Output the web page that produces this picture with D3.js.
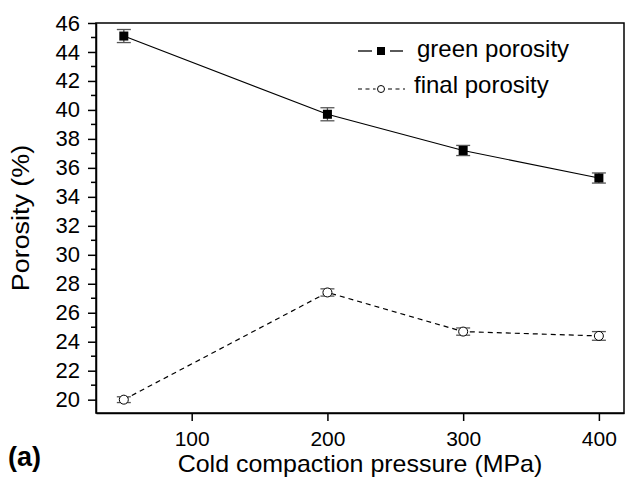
<!DOCTYPE html>
<html lang="en">
<head>
  <meta charset="UTF-8">
  <title>Porosity vs cold compaction pressure</title>
  <style>
    body { margin: 0; background: #fff; }
    svg text { font-family: "Liberation Sans", Arial, sans-serif; fill: #000; }
  </style>
  <script src="https://d3js.org/d3.v7.min.js"></script>
</head>
<body>
  <svg id="chart" width="626" height="485"></svg>

  <script>
    // data
    const pressure = [50, 200, 300, 400];
    const greenPorosity = [45.1, 39.7, 37.2, 35.3];
    const greenErr = [0.45, 0.45, 0.35, 0.35];
    const finalPorosity = [20.0, 27.4, 24.7, 24.4];
    const finalErr = [0.2, 0.25, 0.25, 0.3];
    const xTicks = [100, 200, 300, 400];
    const yTicks = [20, 22, 24, 26, 28, 30, 32, 34, 36, 38, 40, 42, 44, 46];
    const yMinorTicks = [21, 23, 25, 27, 29, 31, 33, 35, 37, 39, 41, 43, 45];

    const svg = d3.select('#chart');
    const plotL = 96, plotR = 624, plotT = 23, plotB = 413;

    const x = d3.scaleLinear().domain([29.5, 418.5]).range([plotL, plotR]);
    const y = d3.scaleLinear().domain([19.08, 46]).range([plotB, plotT]);

    // frame
    svg.append('rect')
      .attr('x', plotL).attr('y', plotT)
      .attr('width', plotR - plotL).attr('height', plotB - plotT)
      .attr('fill', 'none').attr('stroke', '#000').attr('stroke-width', 1.5);

    // x axis
    const xAxis = svg.append('g')
      .attr('transform', `translate(0,${plotB})`)
      .call(d3.axisBottom(x).tickValues(xTicks).tickSize(8).tickSizeOuter(0).tickPadding(10));
    xAxis.select('.domain').attr('stroke-width', 1.5);
    xAxis.selectAll('.tick line').attr('stroke-width', 1.5);
    xAxis.selectAll('text').attr('font-size', 21).attr('fill', '#000');

    // y axis
    const yAxis = svg.append('g')
      .attr('transform', `translate(${plotL},0)`)
      .call(d3.axisLeft(y).tickValues(yTicks).tickSize(8).tickSizeOuter(0).tickPadding(8));
    yAxis.select('.domain').attr('stroke-width', 1.5);
    yAxis.selectAll('.tick line').attr('stroke-width', 1.5);
    yAxis.selectAll('text').attr('font-size', 22).attr('fill', '#000');

    svg.append('g')
      .selectAll('line')
      .data(yMinorTicks)
      .join('line')
      .attr('x1', plotL - 5).attr('x2', plotL)
      .attr('y1', d => y(d)).attr('y2', d => y(d))
      .attr('stroke', '#000').attr('stroke-width', 1.5);

    // axis titles
    svg.append('text')
      .attr('transform', 'translate(360,472) scale(1.04,1)')
      .attr('text-anchor', 'middle')
      .attr('font-size', 24)
      .text('Cold compaction pressure (MPa)');

    svg.append('text')
      .attr('transform', `translate(29,${(plotT + plotB) / 2}) rotate(-90) scale(1.12,1)`)
      .attr('text-anchor', 'middle')
      .attr('font-size', 24)
      .text('Porosity (%)');

    svg.append('text')
      .attr('x', 8).attr('y', 466)
      .attr('font-size', 27).attr('font-weight', 'bold')
      .text('(a)');

    // series
    const greenData = pressure.map((p, i) => ({ x: p, y: greenPorosity[i], e: greenErr[i] }));
    const finalData = pressure.map((p, i) => ({ x: p, y: finalPorosity[i], e: finalErr[i] }));

    const line = d3.line().x(d => x(d.x)).y(d => y(d.y));

    svg.append('path')
      .datum(greenData)
      .attr('d', line)
      .attr('fill', 'none').attr('stroke', '#000').attr('stroke-width', 1.2);

    svg.append('path')
      .datum(finalData)
      .attr('d', line)
      .attr('fill', 'none').attr('stroke', '#000').attr('stroke-width', 1.2)
      .attr('stroke-dasharray', '5,4');

    function errorBars(data) {
      const g = svg.append('g').attr('stroke', '#555').attr('stroke-width', 1.3);
      g.selectAll('.v').data(data).join('line')
        .attr('x1', d => x(d.x)).attr('x2', d => x(d.x))
        .attr('y1', d => y(d.y - d.e)).attr('y2', d => y(d.y + d.e));
      g.selectAll('.top').data(data).join('line')
        .attr('x1', d => x(d.x) - 7).attr('x2', d => x(d.x) + 7)
        .attr('y1', d => y(d.y + d.e)).attr('y2', d => y(d.y + d.e));
      g.selectAll('.bot').data(data).join('line')
        .attr('x1', d => x(d.x) - 7).attr('x2', d => x(d.x) + 7)
        .attr('y1', d => y(d.y - d.e)).attr('y2', d => y(d.y - d.e));
    }
    errorBars(greenData);
    errorBars(finalData);

    svg.append('g')
      .selectAll('rect')
      .data(greenData)
      .join('rect')
      .attr('x', d => x(d.x) - 4.5).attr('y', d => y(d.y) - 4.5)
      .attr('width', 9).attr('height', 9)
      .attr('fill', '#000');

    svg.append('g')
      .selectAll('circle')
      .data(finalData)
      .join('circle')
      .attr('cx', d => x(d.x)).attr('cy', d => y(d.y))
      .attr('r', 4.5)
      .attr('fill', '#fff').attr('stroke', '#000').attr('stroke-width', 1);

    // legend
    const legend = svg.append('g');
    [[358, 372], [390, 403]].forEach(([a, b]) => {
      legend.append('line')
        .attr('x1', a).attr('x2', b).attr('y1', 51).attr('y2', 51)
        .attr('stroke', '#000').attr('stroke-width', 1.3);
    });
    legend.append('rect')
      .attr('x', 377).attr('y', 47).attr('width', 8).attr('height', 8)
      .attr('fill', '#000');
    legend.append('text')
      .attr('x', 417).attr('y', 57).attr('font-size', 24)
      .text('green porosity');

    legend.append('line')
      .attr('x1', 358).attr('x2', 405).attr('y1', 89).attr('y2', 89)
      .attr('stroke', '#000').attr('stroke-width', 1.2)
      .attr('stroke-dasharray', '4,3.5');
    legend.append('circle')
      .attr('cx', 381).attr('cy', 89).attr('r', 4)
      .attr('fill', '#fff').attr('stroke', '#fff').attr('stroke-width', 3);
    legend.append('circle')
      .attr('cx', 381).attr('cy', 89).attr('r', 3.5)
      .attr('fill', '#fff').attr('stroke', '#000').attr('stroke-width', 1);
    legend.append('text')
      .attr('x', 414).attr('y', 93).attr('font-size', 24)
      .text('final porosity');
  </script>
</body>
</html>
